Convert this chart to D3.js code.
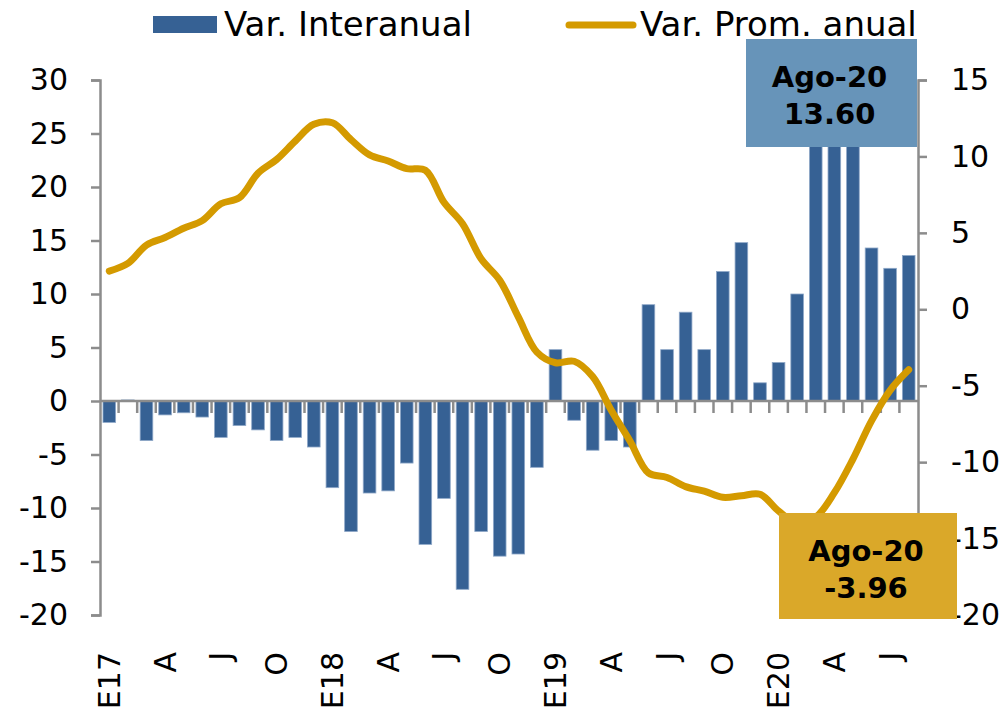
<!DOCTYPE html>
<html>
<head>
<meta charset="utf-8">
<script src="https://cdn.jsdelivr.net/npm/d3@7"></script>
<style>
  body { margin: 0; background: #fff; }
  svg { display: block; font-family: "DejaVu Sans", Verdana, sans-serif; }
</style>
</head>
<body>
<div id="chart"></div>
<script>
/* DATA */
const months = [
  "Ene-17","Feb-17","Mar-17","Abr-17","May-17","Jun-17","Jul-17","Ago-17","Sep-17","Oct-17","Nov-17","Dic-17",
  "Ene-18","Feb-18","Mar-18","Abr-18","May-18","Jun-18","Jul-18","Ago-18","Sep-18","Oct-18","Nov-18","Dic-18",
  "Ene-19","Feb-19","Mar-19","Abr-19","May-19","Jun-19","Jul-19","Ago-19","Sep-19","Oct-19","Nov-19","Dic-19",
  "Ene-20","Feb-20","Mar-20","Abr-20","May-20","Jun-20","Jul-20","Ago-20"
];
const tickLabels = [
  "E17","","","A","","","J","","","O","","",
  "E18","","","A","","","J","","","O","","",
  "E19","","","A","","","J","","","O","","",
  "E20","","","A","","","J",""
];
// Var. Interanual (left axis)
const interanual = [
  -2.0, 0.1, -3.7, -1.3, -1.1, -1.5, -3.4, -2.3, -2.7, -3.7, -3.4, -4.3,
  -8.1, -12.2, -8.6, -8.4, -5.8, -13.4, -9.1, -17.6, -12.2, -14.5, -14.3, -6.2,
  4.8, -1.8, -4.6, -3.7, -4.3, 9.0, 4.8, 8.3, 4.8, 12.1, 14.8, 1.7,
  3.6, 10.0, 27.0, 29.0, 26.0, 14.3, 12.4, 13.6
];
// Var. Prom. anual (right axis)
const promAnual = [
  2.5, 3.0, 4.2, 4.7, 5.3, 5.8, 6.9, 7.3, 8.9, 9.8, 11.0, 12.1,
  12.2, 11.1, 10.1, 9.7, 9.2, 9.1, 7.0, 5.6, 3.3, 1.9, -0.5, -2.8,
  -3.5, -3.4, -4.4, -6.6, -8.6, -10.7, -11.0, -11.6, -11.9, -12.3, -12.2, -12.1,
  -13.2, -14.0, -13.6, -12.0, -9.8, -7.3, -5.3, -3.96
];
const leftTicks = [-20, -15, -10, -5, 0, 5, 10, 15, 20, 25, 30];
const rightTicks = [-20, -15, -10, -5, 0, 5, 10, 15];
const seriesNames = ["Var. Interanual", "Var. Prom. anual"];

/* CONSTANTS */
const width = 1008, height = 717;
const margin = {top: 80, right: 90, bottom: 102, left: 100};
const barColor = "#366194", lineColor = "#D49A00";
const axisColor = "#8c8c8c";

const svg = d3.select("#chart").append("svg")
  .attr("width", width)
  .attr("height", height);

const x = d3.scaleBand()
  .domain(months)
  .range([margin.left, width - margin.right])
  .paddingInner(0.32)
  .paddingOuter(0.16);

const yL = d3.scaleLinear()
  .domain([-20, 30])
  .range([height - margin.bottom, margin.top]);

const yR = d3.scaleLinear()
  .domain([-20, 15])
  .range([height - margin.bottom, margin.top]);

// bars
svg.append("g")
  .selectAll("rect")
  .data(interanual)
  .join("rect")
  .attr("x", (d, i) => x(months[i]))
  .attr("width", x.bandwidth())
  .attr("y", d => yL(Math.max(0, d)))
  .attr("height", d => Math.abs(yL(d) - yL(0)))
  .attr("fill", barColor)
  .attr("stroke", "#8fa8c8")
  .attr("stroke-width", 0.8);

// zero line + category ticks
const gap = x.step() - x.bandwidth();
svg.append("line")
  .attr("x1", margin.left).attr("x2", width - margin.right)
  .attr("y1", yL(0)).attr("y2", yL(0))
  .attr("stroke", axisColor).attr("stroke-width", 2.5);
svg.append("g")
  .selectAll("line")
  .data(months.slice(1))
  .join("line")
  .attr("x1", d => x(d) - gap / 2)
  .attr("x2", d => x(d) - gap / 2)
  .attr("y1", yL(0))
  .attr("y2", yL(0) + 12)
  .attr("stroke", axisColor)
  .attr("stroke-width", 2.5);

// left axis
const gL = svg.append("g")
  .attr("transform", `translate(${margin.left},0)`)
  .call(d3.axisLeft(yL).tickValues(leftTicks).tickFormat(d => String(d))
    .tickSize(9).tickSizeOuter(9).tickPadding(23));

// right axis
const gR = svg.append("g")
  .attr("transform", `translate(${width - margin.right},0)`)
  .call(d3.axisRight(yR).tickValues(rightTicks).tickFormat(d => String(d))
    .tickSize(9).tickSizeOuter(9).tickPadding(24));

[gL, gR].forEach(g => {
  g.attr("font-family", null).attr("font-size", null);
  g.selectAll("path, line").attr("stroke", axisColor).attr("stroke-width", 2.5);
  g.selectAll("text").attr("fill", "#000").style("font-size", "30px");
});

// x labels
svg.append("g")
  .selectAll("text")
  .data(months.filter((m, i) => tickLabels[i] !== ""))
  .join("text")
  .attr("transform", d => `translate(${x(d) + x.bandwidth() / 2},652) rotate(-90)`)
  .attr("text-anchor", "end")
  .attr("dy", "0.35em")
  .style("font-size", "30px")
  .text(d => tickLabels[months.indexOf(d)]);

// line
const line = d3.line()
  .x((d, i) => x(months[i]) + x.bandwidth() / 2)
  .y(d => yR(d))
  .curve(d3.curveCatmullRom);

svg.append("path")
  .datum(promAnual)
  .attr("d", line)
  .attr("fill", "none")
  .attr("stroke", lineColor)
  .attr("stroke-width", 7)
  .attr("stroke-linecap", "round")
  .attr("stroke-linejoin", "round");

// value boxes
const last = months.length - 1;
const boxes = [
  {x: 746, y: 39, w: 171, h: 108, fill: "#6794B9", label: months[last], value: interanual[last].toFixed(2)},
  {x: 779, y: 513, w: 178, h: 106, fill: "#DAA829", label: months[last], value: promAnual[last].toFixed(2)}
];
boxes.forEach(b => {
  const g = svg.append("g");
  g.append("rect")
    .attr("x", b.x).attr("y", b.y)
    .attr("width", b.w).attr("height", b.h)
    .attr("fill", b.fill);
  g.append("text")
    .attr("x", b.x + b.w / 2 - 2).attr("y", b.y + 48)
    .attr("text-anchor", "middle")
    .style("font-size", "29px").style("font-weight", "bold")
    .text(b.label);
  g.append("text")
    .attr("x", b.x + b.w / 2 - 2).attr("y", b.y + 85)
    .attr("text-anchor", "middle")
    .style("font-size", "29px").style("font-weight", "bold")
    .text(b.value);
});

// legend
const legend = svg.append("g");
legend.append("rect")
  .attr("x", 153).attr("y", 16).attr("width", 64).attr("height", 17)
  .attr("fill", barColor);
legend.append("text")
  .attr("x", 224).attr("y", 36)
  .style("font-size", "34px")
  .text(seriesNames[0]);
legend.append("line")
  .attr("x1", 569).attr("x2", 633).attr("y1", 25).attr("y2", 25)
  .attr("stroke", lineColor).attr("stroke-width", 7)
  .attr("stroke-linecap", "round");
legend.append("text")
  .attr("x", 640).attr("y", 36)
  .style("font-size", "34px")
  .text(seriesNames[1]);
</script>
</body>
</html>
